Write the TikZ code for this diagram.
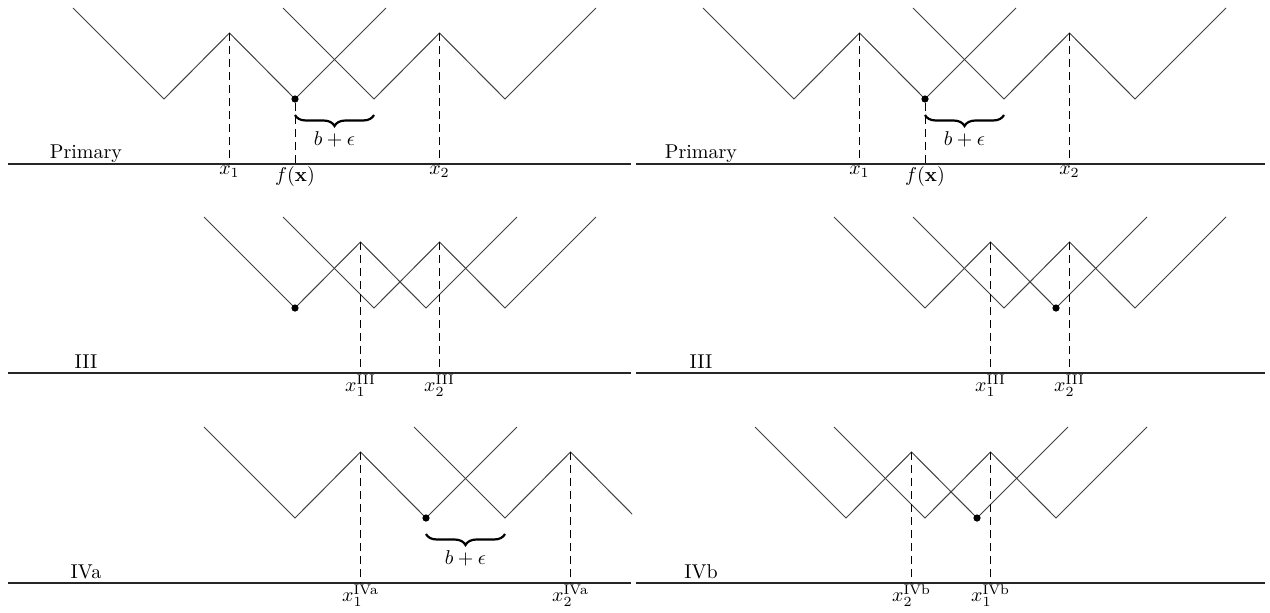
\documentclass[tikz,border=0pt]{standalone}
\usetikzlibrary{decorations.pathreplacing,calc}
\tikzset{
  zig/.style={line width=0.5pt, black!75},
  axis/.style={line width=0.6pt, black!85},
  guide/.style={line width=0.5pt, black, dash pattern=on 4pt off 2.5pt},
  lab/.style={anchor=north, inner sep=0.8pt},
  rowlab/.style={anchor=base, inner sep=0pt},
  dotpt/.style={circle, fill=black, inner sep=0pt, minimum size=3.6pt},
  brc/.style={decorate, decoration={brace, mirror, amplitude=5.5pt}, line width=1.1pt},
  brlab/.style={inner sep=0pt},
}
\newcommand\Wshape[3]{% #1 first valley x, #2 axis y, #3 name prefix
  \coordinate (#3l) at ({#1-91},{#2-156});
  \coordinate (#3v) at (#1,{#2-65});
  \coordinate (#3p) at ({#1+65.5},{#2-131});
  \coordinate (#3w) at ({#1+131},{#2-65});
  \coordinate (#3r) at ({#1+222},{#2-156});
  \draw[zig] (#3l) -- (#3v) -- (#3p) -- (#3w) -- (#3r);}
\begin{document}
\begin{tikzpicture}[x=0.5pt, y=-0.5pt]
\useasboundingbox (0,0) rectangle (1270,612);
% ================= LEFT PANEL =================
\begin{scope}
\clip (0,0) rectangle (632,612);
% --- Primary ---
\coordinate (LaS) at (8,164); \coordinate (LaE) at (631,164);
\draw[axis] (LaS) -- (LaE);
\Wshape{164}{164}{LaA}
\Wshape{374}{164}{LaB}
\node[dotpt] (LaD) at (LaAw) {};
\node[lab] (Lax1) at (LaAp |- LaS) {$x_1$};
\node[lab] (Lafx) at (LaAw |- LaS) {$f(\mathbf{x})$};
\node[lab] (Lax2) at (LaBp |- LaS) {$x_2$};
\draw[guide] (LaAp) -- (Lax1.north);
\draw[guide] (LaD) -- (Lafx.north);
\draw[guide] (LaBp) -- (Lax2.north);
\coordinate (LaB1) at ($(LaAw)+(0,16)$);
\coordinate (LaB2) at ($(LaBv)+(0,16)$);
\draw[brc] (LaB1) -- (LaB2);
\node[brlab] (Labl) at ($(LaB1)!0.5!(LaB2)+(0,24)$) {$b+\epsilon$};
\node[rowlab] (Lan) at (86,158) {Primary};
% --- III ---
\coordinate (LbS) at (8,373); \coordinate (LbE) at (631,373);
\draw[axis] (LbS) -- (LbE);
\Wshape{295}{373}{LbA}
\Wshape{374}{373}{LbB}
\node[dotpt] (LbD) at (LbAv) {};
\node[lab] (Lbx1) at (LbAp |- LbS) {$x_1^{\mathrm{III}}$};
\node[lab] (Lbx2) at (LbBp |- LbS) {$x_2^{\mathrm{III}}$};
\draw[guide] (LbAp) -- (Lbx1.north);
\draw[guide] (LbBp) -- (Lbx2.north);
\node[rowlab] (Lbn) at (86,368) {III};
% --- IVa ---
\coordinate (LcS) at (8,583); \coordinate (LcE) at (631,583);
\draw[axis] (LcS) -- (LcE);
\Wshape{295}{583}{LcA}
\Wshape{505}{583}{LcB}
\node[dotpt] (LcD) at (LcAw) {};
\node[lab] (Lcx1) at (LcAp |- LcS) {$x_1^{\mathrm{IVa}}$};
\node[lab] (Lcx2) at (LcBp |- LcS) {$x_2^{\mathrm{IVa}}$};
\draw[guide] (LcAp) -- (Lcx1.north);
\draw[guide] (LcBp) -- (Lcx2.north);
\coordinate (LcB1) at ($(LcAw)+(0,16)$);
\coordinate (LcB2) at ($(LcBv)+(0,16)$);
\draw[brc] (LcB1) -- (LcB2);
\node[brlab] (Lcbl) at ($(LcB1)!0.5!(LcB2)+(0,24)$) {$b+\epsilon$};
\node[rowlab] (Lcn) at (86,578) {IVa};
\end{scope}
% ================= RIGHT PANEL =================
% --- Primary ---
\coordinate (RaS) at (636,164); \coordinate (RaE) at (1265,164);
\draw[axis] (RaS) -- (RaE);
\Wshape{794}{164}{RaA}
\Wshape{1004}{164}{RaB}
\node[dotpt] (RaD) at (RaAw) {};
\node[lab] (Rax1) at (RaAp |- RaS) {$x_1$};
\node[lab] (Rafx) at (RaAw |- RaS) {$f(\mathbf{x})$};
\node[lab] (Rax2) at (RaBp |- RaS) {$x_2$};
\draw[guide] (RaAp) -- (Rax1.north);
\draw[guide] (RaD) -- (Rafx.north);
\draw[guide] (RaBp) -- (Rax2.north);
\coordinate (RaB1) at ($(RaAw)+(0,16)$);
\coordinate (RaB2) at ($(RaBv)+(0,16)$);
\draw[brc] (RaB1) -- (RaB2);
\node[brlab] (Rabl) at ($(RaB1)!0.5!(RaB2)+(0,24)$) {$b+\epsilon$};
\node[rowlab] (Ran) at (701,158) {Primary};
% --- III ---
\coordinate (RbS) at (636,373); \coordinate (RbE) at (1265,373);
\draw[axis] (RbS) -- (RbE);
\Wshape{925}{373}{RbA}
\Wshape{1004}{373}{RbB}
\node[dotpt] (RbD) at (RbAw) {};
\node[lab] (Rbx1) at (RbAp |- RbS) {$x_1^{\mathrm{III}}$};
\node[lab] (Rbx2) at (RbBp |- RbS) {$x_2^{\mathrm{III}}$};
\draw[guide] (RbAp) -- (Rbx1.north);
\draw[guide] (RbBp) -- (Rbx2.north);
\node[rowlab] (Rbn) at (701,368) {III};
% --- IVb ---
\coordinate (RcS) at (636,583); \coordinate (RcE) at (1265,583);
\draw[axis] (RcS) -- (RcE);
\Wshape{846}{583}{RcA}
\Wshape{925}{583}{RcB}
\node[dotpt] (RcD) at (RcAw) {};
\node[lab] (Rcx2) at (RcAp |- RcS) {$x_2^{\mathrm{IVb}}$};
\node[lab] (Rcx1) at (RcBp |- RcS) {$x_1^{\mathrm{IVb}}$};
\draw[guide] (RcAp) -- (Rcx2.north);
\draw[guide] (RcBp) -- (Rcx1.north);
\node[rowlab] (Rcn) at (701,578) {IVb};
\end{tikzpicture}
\end{document}
